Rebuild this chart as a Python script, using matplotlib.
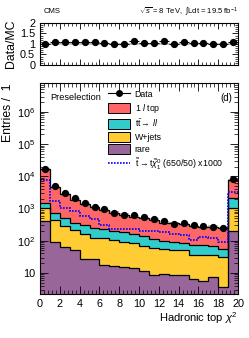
import numpy as np
import matplotlib
matplotlib.use("Agg")
import matplotlib.pyplot as plt
from matplotlib.patches import Patch
from matplotlib.lines import Line2D
from matplotlib.ticker import MultipleLocator, LogLocator, NullFormatter

plt.rcParams['font.family'] = ['Liberation Sans', 'DejaVu Sans']
plt.rcParams['mathtext.fontset'] = 'custom'
plt.rcParams['mathtext.rm'] = 'Liberation Sans'
plt.rcParams['mathtext.it'] = 'Liberation Sans:italic'

# data
edges = np.arange(0, 21, 1)
data = [16600, 5000, 2950, 2050, 1490, 1150, 930, 750, 650, 620,
        525, 465, 410, 340, 355, 300, 280, 270, 250, 8100]
top1l = [15290, 3940, 2270, 1525, 1070, 825, 647, 538, 459, 389,
         355, 335, 266, 255, 239, 209, 190, 204, 188, 5430]
ttll = [440, 295, 207, 142, 140, 125, 113, 101, 93, 80,
        70, 52, 43, 42, 37, 37, 35, 34, 26, 1090]
wjets = [620, 345, 221, 163, 133, 98, 99, 87.5, 77, 71,
         58.7, 51.1, 47.5, 41.5, 41.1, 30.7, 31.5, 27.5, 27.3, 855]
rare = [420, 90, 62, 50, 27, 27, 18, 16.5, 15, 14,
        11.3, 8.9, 9.5, 8.5, 8.9, 6.3, 5.5, 7.5, 3.7, 195]
stop = [7900, 1740, 1000, 830, 580, 460, 300, 224, 224, 224,
        200, 200, 187, 160, 155, 105, 131, 123, 92, 3150]

labels = ["1 $l$ top", r"$\mathrm{t\bar{t}}\!\rightarrow$ $ll$", "W+jets", "rare"]
colors = ["#ff6666", "#33cccc", "#ffcc33", "#996699"]

data = np.array(data)
comps = [np.array(top1l), np.array(ttll), np.array(wjets), np.array(rare)]
cum = []
run = np.zeros(20)
for c in comps[::-1]:
    run = run + c
    cum.append(run.copy())
cum = cum[::-1]          # cum[0] = total, cum[3] = rare
total = cum[0]
centers = 0.5 * (edges[:-1] + edges[1:])

fig = plt.figure(figsize=(2.49, 3.38), dpi=100)
axr = fig.add_axes([0.161, 0.808, 0.795, 0.124])
ax = fig.add_axes([0.161, 0.130, 0.795, 0.624])

# main stack
for i in range(4):
    ax.stairs(cum[i], edges, baseline=1e-2, fill=True, color=colors[i], lw=0)
ax.stairs(total * 1.1, edges, baseline=total * 0.9, fill=True, color='0.55', alpha=0.6, lw=0)
for i in range(4):
    ax.stairs(cum[i], edges, baseline=None, color='black', lw=0.9)
ax.stairs(stop, edges, baseline=None, color='#0000ff', lw=1.2, linestyle=(0, (1, 0.8)))
ax.errorbar(centers, data, yerr=np.sqrt(data), fmt='o', color='black', ms=4.2, lw=0.8)

ax.set_yscale('log')
ax.set_xlim(0, 20)
ax.set_ylim(2.2, 7.8e6)
ax.set_yticks([10, 100, 1000, 1e4, 1e5, 1e6])
ax.set_yticklabels(['10', '$10^2$', '$10^3$', '$10^4$', '$10^5$', '$10^6$'])
ax.yaxis.set_minor_locator(LogLocator(base=10, subs=np.arange(2, 10), numticks=20))
ax.yaxis.set_minor_formatter(NullFormatter())
ax.xaxis.set_major_locator(MultipleLocator(2))
ax.xaxis.set_minor_locator(MultipleLocator(0.4))
ax.tick_params(which='both', direction='in', top=True, right=True, labelsize=7.8)
ax.tick_params(which='major', length=6, width=0.6)
ax.tick_params(which='minor', length=3, width=0.5)
ax.set_xlabel(r"Hadronic top $\chi^{2}$", fontsize=8, loc='right', labelpad=1)
ax.set_ylabel("Entries /  1", fontsize=8.8, loc='top', labelpad=2)
for s in ax.spines.values():
    s.set_linewidth(0.8)

ax.text(0.05, 0.955, "Preselection", transform=ax.transAxes, fontsize=6.6, va='top')
ax.text(0.97, 0.955, "(d)", transform=ax.transAxes, fontsize=7, va='top', ha='right')

handles = [Line2D([0], [0], color='black', marker='o', ms=4, lw=0.8)]
for i in range(4):
    handles.append(Patch(facecolor=colors[i], edgecolor='black', lw=0.7))
handles.append(Line2D([0], [0], color='#0000ff', lw=1.2, linestyle=(0, (1, 0.8))))
leg_labels = ["Data"] + labels + [r"$\tilde{\mathrm{t}}\rightarrow \mathrm{t}\tilde{\chi}^{0}_{1}$ (650/50) x1000"]
ax.legend(handles, leg_labels, loc='upper left', bbox_to_anchor=(0.31, 1.0), frameon=False,
          fontsize=6.3, handlelength=2.6, handleheight=1.4, labelspacing=0.28,
          handletextpad=0.5, borderaxespad=0.3)

# ratio panel
ratio = data / total
axr.fill_between([0, 20], 0.95, 1.05, color='0.6', alpha=0.6, lw=0)
axr.errorbar(centers, ratio, yerr=0.03 * np.ones(20), xerr=0.5, fmt='o', color='black', ms=4.2, lw=0.8)
axr.set_xlim(0, 20)
axr.set_ylim(0, 2)
axr.set_yticks([0, 0.5, 1, 1.5, 2])
axr.set_yticklabels(['0', '0.5', '1', '1.5', '2'])
axr.yaxis.set_minor_locator(MultipleLocator(0.1))
axr.xaxis.set_major_locator(MultipleLocator(2))
axr.xaxis.set_minor_locator(MultipleLocator(0.4))
axr.tick_params(which='both', direction='in', top=True, right=True, labelsize=7.8, labelbottom=False)
axr.tick_params(which='major', length=4, width=0.6)
axr.tick_params(which='minor', length=2, width=0.5)
axr.set_ylabel("Data/MC", fontsize=8.8, labelpad=2)
for s in axr.spines.values():
    s.set_linewidth(0.8)

fig.text(0.175, 0.965, "CMS", fontsize=5.5, va='center')
fig.text(0.955, 0.965, r"$\sqrt{s}$ = 8 TeV,  $\int$Ldt = 19.5 fb$^{-1}$", fontsize=5.5,
         va='center', ha='right')

fig.savefig("out.png", dpi=100)
